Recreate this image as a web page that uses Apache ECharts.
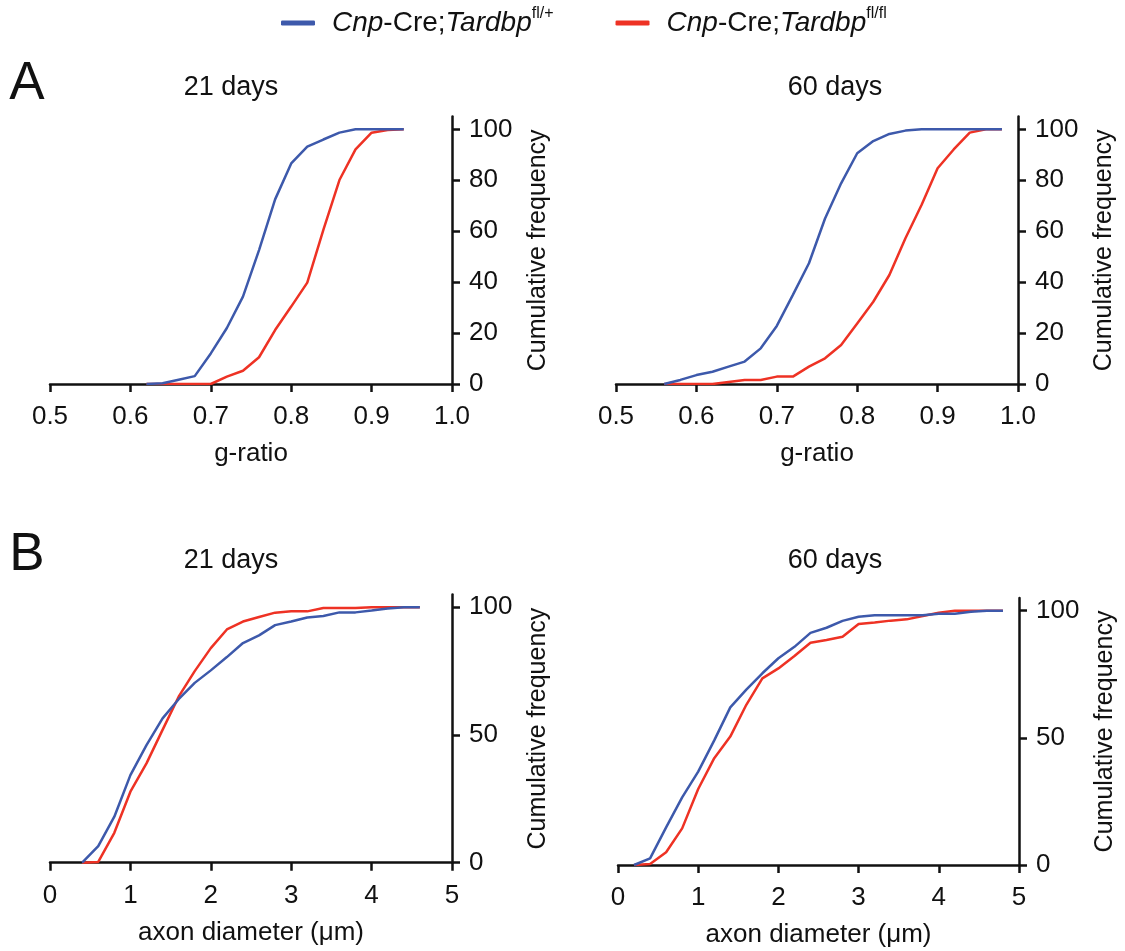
<!DOCTYPE html>
<html>
<head>
<meta charset="utf-8">
<script src="https://cdn.jsdelivr.net/npm/echarts@6/dist/echarts.min.js"></script>
<style>
html,body{margin:0;padding:0;background:#fff;}
#chart{width:1125px;height:951px;}
</style>
</head>
<body>
<div id="chart"></div>
<script>
// ---------- data ----------
const seriesNames = ['het', 'ko']; // Cnp-Cre;Tardbp fl/+ , fl/fl
const gRatio21 = [0.62,0.64,0.66,0.68,0.70,0.72,0.74,0.76,0.78,0.80,0.82,0.84,0.86,0.88,0.90,0.92,0.94];
const g21Het   = [0,0.3,1.7,3.1,12,22,34.3,52.6,72.5,86.6,93.2,96,98.7,100,100,100,100];
const g21Ko    = [0,0,0,0,0,2.9,5.2,10.5,21.2,30.4,39.8,60.5,80.1,92.1,98.7,99.7,100];

const gRatio60 = [0.56,0.58,0.60,0.62,0.64,0.66,0.68,0.70,0.72,0.74,0.76,0.78,0.80,0.82,0.84,0.86,0.88,0.90,0.92,0.94,0.96,0.98];
const g60Het   = [0,1.6,3.5,4.8,6.8,8.8,14,22.8,35,47.4,65,78.8,90.6,95.4,98.2,99.5,100,100,100,100,100,100];
const g60Ko    = [0,0,0,0,0.8,1.6,1.6,2.9,2.9,6.8,10.1,15.3,23.8,32.3,42.8,57.2,70.3,84.7,92.1,98.7,100,100];

const diam21   = [0.4,0.6,0.8,1.0,1.2,1.4,1.6,1.8,2.0,2.2,2.4,2.6,2.8,3.0,3.2,3.4,3.6,3.8,4.0,4.2,4.4,4.6];
const d21Het   = [0,6.5,18,34.3,46,56.5,64,70.4,75.3,80.5,86,89,93,94.4,96,96.6,98,98,98.7,99.5,100,100];
const d21Ko    = [0,0.3,11.7,27.8,38.9,52,65,75,84,91.3,94.4,96.2,97.9,98.4,98.4,99.7,99.7,99.7,100,100,100,100];

const diam60   = [0.2,0.4,0.6,0.8,1.0,1.2,1.4,1.6,1.8,2.0,2.2,2.4,2.6,2.8,3.0,3.2,3.4,3.6,3.8,4.0,4.2,4.4,4.6,4.8];
const d60Het   = [0,2.6,14.8,26.6,36.7,49,62,69,75.4,81.3,85.8,91.3,93.3,96,97.6,98.2,98.2,98.2,98.2,98.8,98.8,99.6,100,100];
const d60Ko    = [0,0.4,5,14.4,29.9,42,50.5,63,73.4,77.3,82.2,87.4,88.5,89.8,94.8,95.4,96.1,96.6,97.9,99.2,100,100,100,100];

const ticksA = [0,20,40,60,80,100];
const ticksB = [0,50,100];
const panelTitles = ['21 days', '60 days', '21 days', '60 days'];
const panelLetters = ['A', 'B'];
const xNames = ['g-ratio', 'g-ratio', 'axon diameter (μm)', 'axon diameter (μm)'];
const yName = 'Cumulative frequency';

// ---------- style ----------
const FONT = 'Liberation Sans, Arial, Helvetica, sans-serif';
const BLUE = '#3D59AB';
const RED = '#EE3224';
const BLACK = '#111';

function pairs(xs, ys){ return xs.map((x,i)=>[x, ys[i]]); }

const grids = [
  {left: 50,  top: 116.6, width: 402, height: 267.4},
  {left: 616, top: 116.6, width: 402, height: 267.4},
  {left: 50,  top: 594.5, width: 402, height: 268.2},
  {left: 618, top: 598,   width: 401, height: 267}
];

const xRanges = [
  {min:0.5, max:1.0, interval:0.1, fmt: v => v.toFixed(1)},
  {min:0.5, max:1.0, interval:0.1, fmt: v => v.toFixed(1)},
  {min:0, max:5, interval:1, fmt: v => String(v)},
  {min:0, max:5, interval:1, fmt: v => String(v)}
];

const axisLineStyle = {color: BLACK, width: 2.5};

const xAxes = xRanges.map((r, i) => ({
  type: 'value', gridIndex: i, min: r.min, max: r.max, interval: r.interval,
  name: xNames[i], nameLocation: 'middle', nameGap: 57,
  nameTextStyle: {fontFamily: FONT, fontSize: 26, color: BLACK},
  axisLine: {show: true, onZero: false, lineStyle: axisLineStyle},
  axisTick: {show: true, length: 8, lineStyle: axisLineStyle},
  axisLabel: {margin: 20, fontFamily: FONT, fontSize: 26, color: BLACK, formatter: r.fmt},
  splitLine: {show: false}
}));

const yAxes = [0,1,2,3].map(i => {
  const ticks = i < 2 ? ticksA : ticksB;
  return {
    type: 'value', gridIndex: i, position: 'right', min: 0, max: 105,
    name: yName, nameLocation: 'middle', nameRotate: 90, nameGap: 74,
    nameTextStyle: {fontFamily: FONT, fontSize: 25, color: BLACK},
    axisLine: {show: true, onZero: false, lineStyle: axisLineStyle},
    axisTick: {show: true, length: 8, lineStyle: axisLineStyle, customValues: ticks},
    axisLabel: {margin: 17, fontFamily: FONT, fontSize: 26, color: BLACK, customValues: ticks},
    splitLine: {show: false}
  };
});

const panelData = [
  [pairs(gRatio21, g21Het), pairs(gRatio21, g21Ko)],
  [pairs(gRatio60, g60Het), pairs(gRatio60, g60Ko)],
  [pairs(diam21, d21Het), pairs(diam21, d21Ko)],
  [pairs(diam60, d60Het), pairs(diam60, d60Ko)]
];

const series = [];
panelData.forEach((pd, i) => {
  pd.forEach((data, k) => {
    series.push({
      type: 'line', name: seriesNames[k], xAxisIndex: i, yAxisIndex: i,
      data: data, showSymbol: false, symbol: 'none', smooth: false,
      lineStyle: {color: k === 0 ? BLUE : RED, width: 2.5},
      itemStyle: {color: k === 0 ? BLUE : RED},
      z: k === 0 ? 3 : 2, animation: false
    });
  });
});

const titlePos = [[231, 88], [835, 88], [231, 561], [835, 561]];
const graphics = panelTitles.map((t, i) => ({
  type: 'text', x: titlePos[i][0], y: titlePos[i][1],
  style: {text: t, font: '27px ' + FONT, fill: BLACK,
          align: 'center', verticalAlign: 'middle', textAlign: 'center', textVerticalAlign: 'middle'}
}));
const letterPos = [[27, 84], [27, 555]];
panelLetters.forEach((L, i) => graphics.push({
  type: 'text', x: letterPos[i][0], y: letterPos[i][1],
  style: {text: L, font: '53px ' + FONT, fill: BLACK,
          align: 'center', verticalAlign: 'middle', textAlign: 'center', textVerticalAlign: 'middle'}
}));

const option = {
  backgroundColor: '#fff',
  animation: false,
  legend: {
    left: 276, top: 1, itemGap: 62, itemWidth: 34, itemHeight: 5, icon: 'roundRect',
    data: seriesNames,
    formatter: n => n === 'het' ? '{i|Cnp}{n|-Cre;}{i|Tardbp}{s|fl/+}' : '{i|Cnp}{n|-Cre;}{i|Tardbp}{s|fl/fl}',
    textStyle: {
      fontFamily: FONT, fontSize: 28, color: BLACK, padding: [0,0,0,12],
      rich: {
        n: {fontFamily: FONT, fontSize: 28, color: BLACK, lineHeight: 34},
        i: {fontFamily: FONT, fontSize: 28, fontStyle: 'italic', color: BLACK, lineHeight: 34},
        s: {fontFamily: FONT, fontSize: 16, color: BLACK, verticalAlign: 'top', lineHeight: 34, padding: [0,0,12,0]}
      }
    }
  },
  grid: grids.map(g => Object.assign({containLabel: false}, g)),
  xAxis: xAxes,
  yAxis: yAxes,
  series: series,
  graphic: graphics
};

const chart = echarts.init(document.getElementById('chart'), null, {renderer: 'canvas'});
chart.setOption(option);
</script>
</body>
</html>
